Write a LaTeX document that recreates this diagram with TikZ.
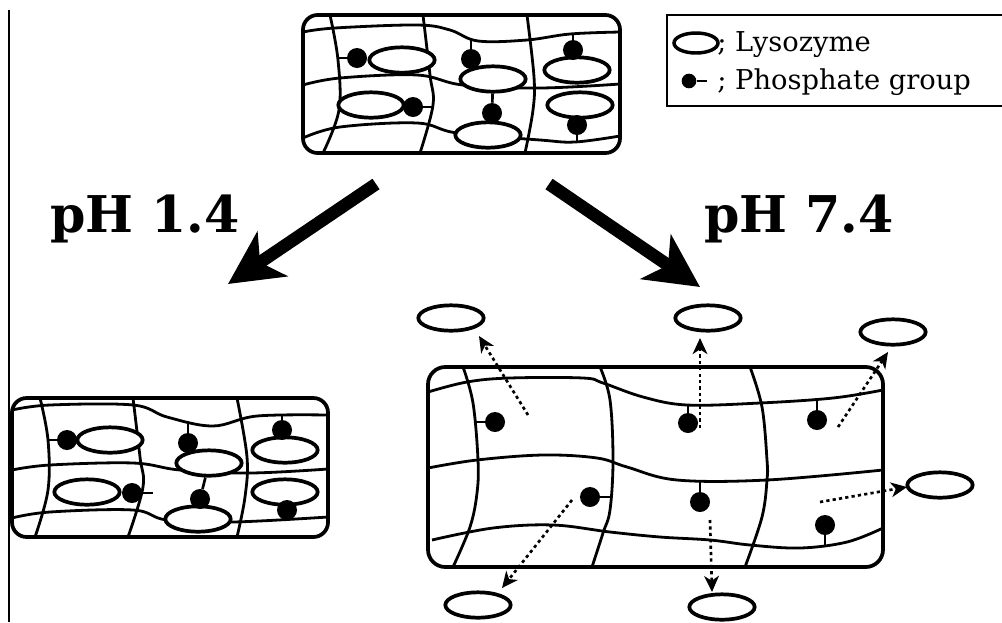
\documentclass[tikz,border=0pt]{standalone}
\usepackage{fontspec}
\setmainfont{DejaVu Serif}
\usetikzlibrary{shapes.geometric,arrows.meta}
\begin{document}
\begin{tikzpicture}[x=0.75pt,y=-0.75pt,
  frame/.style={line width=2.8pt,rounded corners=11pt},
  gridline/.style={line width=2.1pt,line join=round},
  lyso/.style={ellipse,draw,line width=2.8pt,fill=white,inner sep=0pt,
               minimum width=49pt,minimum height=19pt},
  pdot/.style={circle,fill=black,inner sep=0pt,minimum size=15pt},
  stem/.style={line width=2pt},
  release/.style={line width=2pt,dash pattern=on 2.4pt off 2.4pt,
               -{Stealth[length=12pt,width=11pt,inset=3.5pt]}},
  bigarrow/.style={line width=9.5pt,-{Stealth[length=40pt,width=40pt,inset=11pt]}},
  phlabel/.style={font=\fontsize{38pt}{42pt}\bfseries\selectfont,inner sep=0pt,anchor=base west},
  legtext/.style={font=\fontsize{20.5pt}{24pt}\selectfont,inner sep=0pt,anchor=base west}]
\useasboundingbox (0,0) rectangle (1002,622);
\fill[white] (0,0) rectangle (1002,622);

% page rule at the left
\draw[line width=1.6pt] (9,10) -- (9,622);

% ---------- starting hydrogel ----------
\draw[gridline] plot[smooth,tension=0.6] coordinates {(330,15) (338,60) (339,110) (323,153)};
\draw[gridline] plot[smooth,tension=0.6] coordinates {(423,15) (430,75) (433,105) (420,153)};
\draw[gridline] plot[smooth,tension=0.6] coordinates {(527,15) (534,77) (533,110) (525,153)};
\draw[gridline] plot[smooth,tension=0.6] coordinates {(303,32) (335,28) (417,25) (450,30) (478,41) (527,40) (570,34) (620,32)};
\draw[gridline] plot[smooth,tension=0.6] coordinates {(303,85) (340,78) (417,75) (463,85) (540,88) (620,84)};
\draw[gridline] plot[smooth,tension=0.6] coordinates {(303,138) (340,127) (417,123) (457,133) (540,140) (575,142) (620,136)};
\draw[frame] (303,15) rectangle (620,153);

\coordinate (ts1) at (338,58);
\coordinate (ts2) at (433,107);
\coordinate (ts3) at (471,38);
\coordinate (ts5) at (573,34);
\coordinate (ts6) at (577,142);
\node[lyso] (t1) at (402,60) {};
\node[lyso] (t2) at (371,105) {};
\node[lyso] (t3) at (493,79) {};
\node[lyso] (t4) at (488,135) {};
\node[lyso] (t5) at (577,70) {};
\node[lyso] (t6) at (580,105) {};
\node[pdot] (tp1) at (357,58) {};
\node[pdot] (tp2) at (413,107) {};
\node[pdot] (tp3) at (471,59) {};
\node[pdot] (tp4) at (492,113) {};
\node[pdot] (tp5) at (573,50) {};
\node[pdot] (tp6) at (577,125) {};
\draw[stem] (tp1) -- (ts1);
\draw[stem] (tp2) -- (ts2);
\draw[stem] (tp3) -- (ts3);
\draw[stem] (tp4) -- (t3);
\draw[stem] (tp5) -- (ts5);
\draw[stem] (tp6) -- (ts6);

% ---------- legend ----------
\draw[line width=1.9pt] (667,15) rectangle (1012,106);
\node[lyso,line width=2.6pt,minimum width=33pt,minimum height=15pt] (lg1) at (696,43) {};
\node[legtext] (lgt1) at (717,51) {; Lysozyme};
\node[pdot,minimum size=11pt] (lgp) at (689,81) {};
\coordinate (lgs) at (707,81);
\draw[stem] (lgp) -- (lgs);
\node[legtext] (lgt2) at (717,89) {; Phosphate group};

% ---------- pH labels and transition arrows ----------
\node[phlabel] (ph1) at (50,232) {pH 1.4};
\node[phlabel] (ph7) at (704,232) {pH 7.4};
\coordinate (aL0) at (376,184);
\coordinate (aL1) at (228,284);
\coordinate (aR0) at (549,184);
\coordinate (aR1) at (700,287);
\draw[bigarrow] (aL0) -- (aL1);
\draw[bigarrow] (aR0) -- (aR1);

% ---------- collapsed gel at pH 1.4 ----------
\draw[gridline] plot[smooth,tension=0.6] coordinates {(40,398) (48,440) (48,490) (35,537)};
\draw[gridline] plot[smooth,tension=0.6] coordinates {(133,398) (140,457) (143,487) (128,537)};
\draw[gridline] plot[smooth,tension=0.6] coordinates {(237,398) (247,457) (245,497) (237,537)};
\draw[gridline] plot[smooth,tension=0.6] coordinates {(12,410) (50,405) (133,405) (167,417) (213,426) (257,416) (328,415)};
\draw[gridline] plot[smooth,tension=0.6] coordinates {(12,470) (50,465) (133,463) (180,470) (250,473) (328,469)};
\draw[gridline] plot[smooth,tension=0.6] coordinates {(12,518) (50,512) (133,510) (167,520) (233,522) (328,517)};
\draw[frame] (12,398) rectangle (328,537);

\coordinate (ls1) at (48,440);
\coordinate (ls2) at (153,493);
\coordinate (ls3) at (188,421);
\coordinate (ls5) at (282,416);
\coordinate (ls6) at (287,521);
\node[lyso] (l1) at (110,440) {};
\node[lyso] (l2) at (87,492) {};
\node[lyso] (l3) at (209,463) {};
\node[lyso] (l4) at (198,519) {};
\node[lyso] (l5) at (285,450) {};
\node[lyso] (l6) at (285,492) {};
\node[pdot] (lp1) at (67,440) {};
\node[pdot] (lp2) at (132,493) {};
\node[pdot] (lp3) at (188,443) {};
\node[pdot] (lp4) at (200,499) {};
\node[pdot] (lp5) at (282,430) {};
\node[pdot] (lp6) at (287,510) {};
\draw[stem] (lp1) -- (ls1);
\draw[stem] (lp2) -- (ls2);
\draw[stem] (lp3) -- (ls3);
\draw[stem] (lp4) -- (l3);
\draw[stem] (lp5) -- (ls5);
\draw[stem] (lp6) -- (ls6);

% ---------- swollen gel at pH 7.4 ----------
\draw[gridline] plot[smooth,tension=0.6] coordinates {(463,367) (473,403) (478,460) (477,493) (470,527) (453,567)};
\draw[gridline] plot[smooth,tension=0.6] coordinates {(600,367) (610,400) (613,460) (610,510) (603,533) (592,567)};
\draw[gridline] plot[smooth,tension=0.6] coordinates {(750,367) (762,407) (767,460) (767,480) (762,517) (745,567)};
\draw[gridline] plot[smooth,tension=0.6] coordinates {(428,392) (467,382) (510,378) (583,378) (603,383) (643,397) (687,405) (760,403) (833,398) (883,390)};
\draw[gridline] plot[smooth,tension=0.6] coordinates {(428,468) (477,460) (543,455) (597,458) (627,467) (677,480) (767,480) (883,470)};
\draw[gridline] plot[smooth,tension=0.6] coordinates {(432,540) (493,528) (553,525) (610,532) (660,537) (710,540) (750,545) (800,548) (847,542) (883,528)};
\draw[frame,rounded corners=13pt] (428,367) rectangle (883,567);

\coordinate (rs1) at (476,422);
\coordinate (rs2) at (688,405);
\coordinate (rs3) at (817,401);
\coordinate (rs4) at (612,497);
\coordinate (rs5) at (700,481);
\coordinate (rs6) at (825,545);
\node[pdot] (rp1) at (495,422) {};
\node[pdot] (rp2) at (688,423) {};
\node[pdot] (rp3) at (817,420) {};
\node[pdot] (rp4) at (590,497) {};
\node[pdot] (rp5) at (700,502) {};
\node[pdot] (rp6) at (825,525) {};
\draw[stem] (rp1) -- (rs1);
\draw[stem] (rp2) -- (rs2);
\draw[stem] (rp3) -- (rs3);
\draw[stem] (rp4) -- (rs4);
\draw[stem] (rp5) -- (rs5);
\draw[stem] (rp6) -- (rs6);

% released lysozyme
\node[lyso] (f1) at (451,318) {};
\node[lyso] (f2) at (708,318) {};
\node[lyso] (f3) at (893,332) {};
\node[lyso] (f4) at (940,485) {};
\node[lyso] (f5) at (478,605) {};
\node[lyso] (f6) at (722,607) {};

\coordinate (d1) at (528,415);  \coordinate (e1) at (479,336);
\coordinate (d2) at (700,428);  \coordinate (e2) at (700,338);
\coordinate (d3) at (838,427);  \coordinate (e3) at (888,352);
\coordinate (d4) at (820,502);  \coordinate (e4) at (907,487);
\coordinate (d5) at (572,500);  \coordinate (e5) at (502,588);
\coordinate (d6) at (710,520);  \coordinate (e6) at (712,592);
\draw[release] (d1) -- (e1);
\draw[release] (d2) -- (e2);
\draw[release] (d3) -- (e3);
\draw[release] (d4) -- (e4);
\draw[release] (d5) -- (e5);
\draw[release] (d6) -- (e6);
\end{tikzpicture}
\end{document}
